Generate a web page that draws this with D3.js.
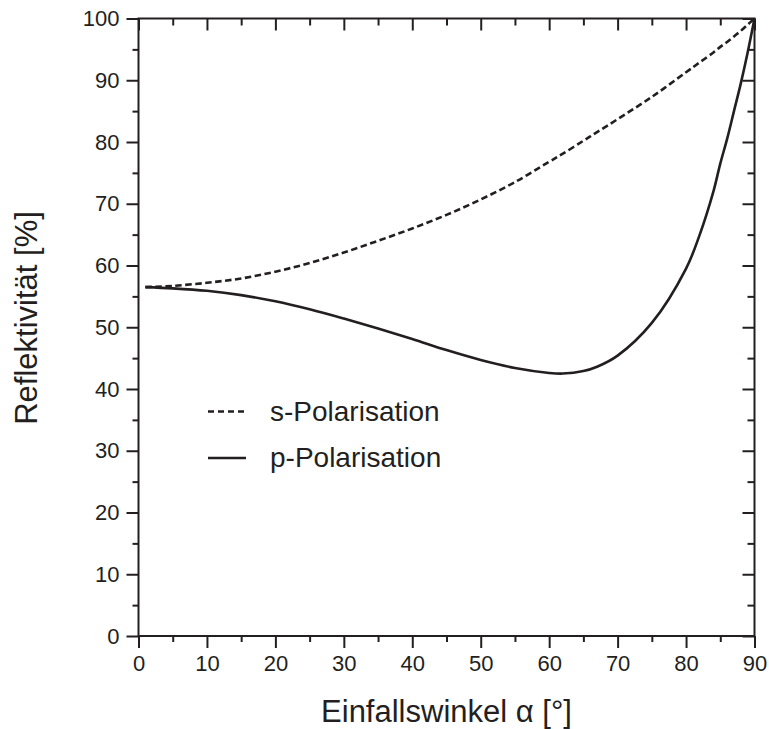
<!DOCTYPE html>
<html>
<head>
<meta charset="utf-8">
<script src="https://cdn.jsdelivr.net/npm/d3@7/dist/d3.min.js"></script>
<style>
  html, body { margin: 0; padding: 0; background: #fff; }
  svg { display: block; font-family: "Liberation Sans", Arial, Helvetica, sans-serif; }
</style>
</head>
<body>
<svg id="chart" width="769" height="729"></svg>
<script>
// Reflectivity vs. angle of incidence for s- and p-polarised light
const angles = [1, 5, 10, 15, 20, 25, 30, 35, 40, 45, 50, 55, 60, 62, 65, 67, 70, 75, 80, 82, 84, 85, 86, 87, 88, 89, 90];
const sPolarisation = [56.5, 56.7, 57.2, 57.9, 59.0, 60.4, 62.1, 64.0, 66.0, 68.2, 70.7, 73.5, 76.8, 78.1, 80.2, 81.6, 83.7, 87.3, 91.3, 92.9, 94.5, 95.4, 96.2, 97.1, 98.0, 99.0, 100];
const pPolarisation = [56.5, 56.3, 55.9, 55.2, 54.2, 52.9, 51.4, 49.8, 48.1, 46.3, 44.7, 43.4, 42.6, 42.5, 42.9, 43.6, 45.4, 50.7, 59.5, 65.0, 72.0, 76.5, 80.5, 85.0, 89.5, 94.5, 100];
const xTicks = [0, 10, 20, 30, 40, 50, 60, 70, 80, 90];
const yTicks = [0, 10, 20, 30, 40, 50, 60, 70, 80, 90, 100];
const legendLabels = ["s-Polarisation", "p-Polarisation"];

const svg = d3.select("#chart");
const plotLeft = 138.5, plotRight = 754.5, plotTop = 18.5, plotBottom = 636;

const x = d3.scaleLinear().domain([0, 90]).range([plotLeft, plotRight]);
const y = d3.scaleLinear().domain([0, 100]).range([plotBottom, plotTop]);

const xMinor = d3.range(5, 90, 10);
const yMinor = d3.range(5, 100, 10);
const ink = "#231f20";
const tickFont = 22;

function styleAxis(g) {
  g.select(".domain").remove();
  g.selectAll(".tick line").attr("stroke", ink).attr("stroke-width", 2);
  g.selectAll(".tick text").attr("fill", ink).attr("font-size", tickFont)
    .attr("font-family", "Liberation Sans, Arial, sans-serif");
}

// bottom axis: major ticks with labels, minor ticks between
svg.append("g").attr("transform", `translate(0,${plotBottom})`)
  .call(d3.axisBottom(x).tickValues(xTicks).tickSize(12).tickPadding(7).tickFormat(d3.format("d")))
  .call(styleAxis);
svg.append("g").attr("transform", `translate(0,${plotBottom})`)
  .call(d3.axisBottom(x).tickValues(xMinor).tickSize(6).tickFormat(""))
  .call(styleAxis);

// left axis
svg.append("g").attr("transform", `translate(${plotLeft},0)`)
  .call(d3.axisLeft(y).tickValues(yTicks).tickSize(12).tickPadding(7).tickFormat(d3.format("d")))
  .call(styleAxis);
svg.append("g").attr("transform", `translate(${plotLeft},0)`)
  .call(d3.axisLeft(y).tickValues(yMinor).tickSize(6).tickFormat(""))
  .call(styleAxis);

// top and right mirror axes with inward ticks
svg.append("g").attr("transform", `translate(0,${plotTop})`)
  .call(d3.axisBottom(x).tickValues(xTicks).tickSize(12).tickFormat(""))
  .call(styleAxis);
svg.append("g").attr("transform", `translate(0,${plotTop})`)
  .call(d3.axisBottom(x).tickValues(xMinor).tickSize(7).tickFormat(""))
  .call(styleAxis);
svg.append("g").attr("transform", `translate(${plotRight},0)`)
  .call(d3.axisLeft(y).tickValues(yTicks).tickSize(12).tickFormat(""))
  .call(styleAxis);
svg.append("g").attr("transform", `translate(${plotRight},0)`)
  .call(d3.axisLeft(y).tickValues(yMinor).tickSize(7).tickFormat(""))
  .call(styleAxis);

// frame
svg.append("rect")
  .attr("x", plotLeft).attr("y", plotTop)
  .attr("width", plotRight - plotLeft).attr("height", plotBottom - plotTop)
  .attr("fill", "none").attr("stroke", ink).attr("stroke-width", 2);

// curves
const line = d3.line().x((d, i) => x(angles[i])).y(d => y(d)).curve(d3.curveCatmullRom.alpha(0.5));

svg.append("path").datum(sPolarisation)
  .attr("d", line).attr("fill", "none").attr("stroke", ink)
  .attr("stroke-width", 2.6).attr("stroke-dasharray", "6.5,3.5");

svg.append("path").datum(pPolarisation)
  .attr("d", line).attr("fill", "none").attr("stroke", ink)
  .attr("stroke-width", 2.6);

// legend
const legend = svg.append("g");
legend.append("line").attr("x1", 208).attr("x2", 246).attr("y1", 411.5).attr("y2", 411.5)
  .attr("stroke", ink).attr("stroke-width", 2.5).attr("stroke-dasharray", "6,4");
legend.append("line").attr("x1", 208).attr("x2", 246).attr("y1", 458).attr("y2", 458)
  .attr("stroke", ink).attr("stroke-width", 2.5);
legend.append("text").attr("x", 270).attr("y", 421).attr("font-size", 28).attr("fill", ink).text(legendLabels[0]);
legend.append("text").attr("x", 270).attr("y", 467).attr("font-size", 28).attr("fill", ink).text(legendLabels[1]);

// axis titles
svg.append("text")
  .attr("x", (plotLeft + plotRight) / 2).attr("y", 722)
  .attr("text-anchor", "middle").attr("font-size", 31).attr("fill", ink)
  .text("Einfallswinkel α [°]");

svg.append("text")
  .attr("transform", `translate(37,318) rotate(-90)`)
  .attr("text-anchor", "middle").attr("font-size", 31).attr("fill", ink)
  .text("Reflektivität [%]");
</script>
</body>
</html>
